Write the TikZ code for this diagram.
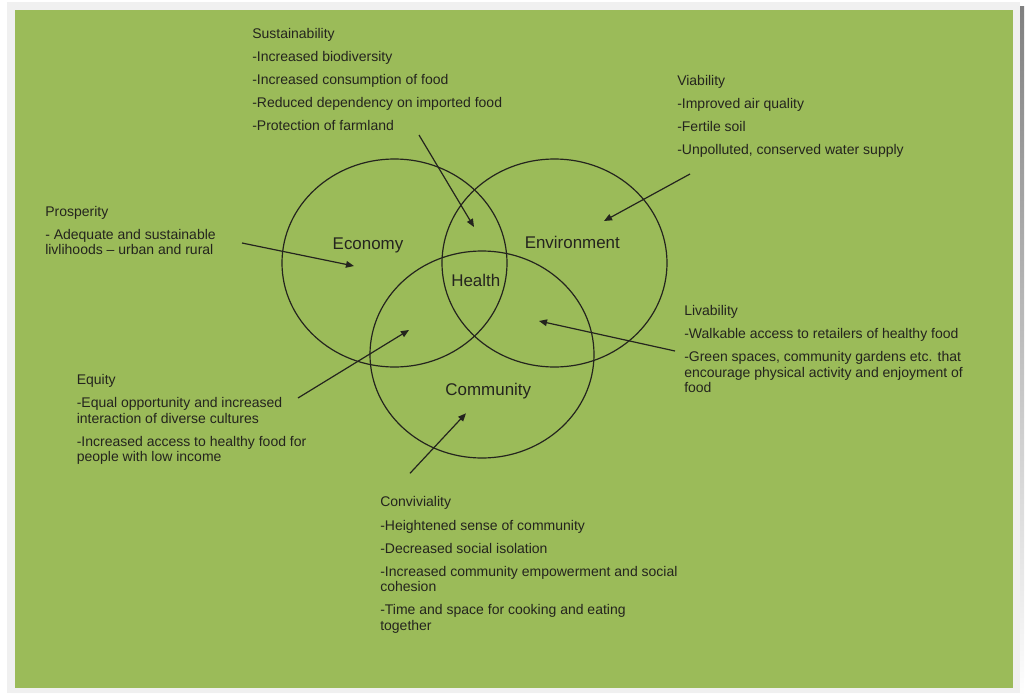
\documentclass[tikz,border=0pt]{standalone}
\usepackage{fontspec}
\setmainfont{Liberation Sans}
\usetikzlibrary{shapes.geometric,arrows.meta}
\definecolor{leaf}{HTML}{9BBB59}
\definecolor{paper}{HTML}{F0F0F0}
\definecolor{shade}{HTML}{B9BDAA}
\definecolor{ink}{HTML}{24241E}
\tikzset{
	ring/.style={draw=ink,ellipse,line width=0.9pt,inner sep=0pt},
	tag/.style={anchor=base,text=ink,font=\fontsize{12.7pt}{14pt}\selectfont},
	block/.style={anchor=north west,align=left,inner sep=0pt,text=ink,
			font=\fontsize{10.5pt}{11.5pt}\selectfont},
	pointer/.style={draw=ink,line width=0.9pt,-{Triangle[length=6pt,width=5pt]}}
}
\begin{document}
\begin{tikzpicture}[x=0.75pt,y=-0.75pt]
		\useasboundingbox (0,0) rectangle (1026,696);
		% frame and background
		\fill[shade] (11,6) rectangle (1024,696);
		\fill[paper] (7,2) rectangle (1020,693);
		\fill[leaf] (15,10) rectangle (1013,688);

		% the three circles
		\node[ring,minimum width=168.75pt,minimum height=156pt] (economy) at (394.5,263) {};
		\node[ring,minimum width=168.75pt,minimum height=156pt] (environment) at (554.5,263) {};
		\node[ring,minimum width=168pt,minimum height=155.25pt] (community) at (482,354.5) {};
		\node[tag] (economylabel) at (368,249) {Economy};
		\node[tag] (environmentlabel) at (572.3,248.3) {Environment};
		\node[tag] (healthlabel) at (475.8,286.7) {Health};
		\node[tag] (communitylabel) at (488.3,395) {Community};

		% text blocks
		\node[block] (sustainability) at (252,27.7) {Sustainability\\[5.9pt]
				-Increased biodiversity\\[5.9pt]
				-Increased consumption of food\\[5.9pt]
				-Reduced dependency on imported food\\[5.9pt]
				-Protection of farmland};
		\node[block] (viability) at (677,74.7) {Viability\\[5.9pt]
				-Improved air quality\\[5.9pt]
				-Fertile soil\\[5.9pt]
				-Unpolluted, conserved water supply};
		\node[block] (prosperity) at (45,205.7) {Prosperity\\[5.9pt]
				- Adequate and sustainable\\
				livlihoods -- urban and rural};
		\node[block] (equity) at (76.5,374.3) {Equity\\[5.9pt]
				-Equal opportunity and increased\\
				interaction of diverse cultures\\[5.9pt]
				-Increased access to healthy food for\\
				people with low income};
		\node[block] (livability) at (684,305) {Livability\\[5.9pt]
				-Walkable access to retailers of healthy food\\[5.9pt]
				-Green spaces, community gardens etc. that\\
				encourage physical activity and enjoyment of\\
				food};
		\node[block] (conviviality) at (380,496.4) {Conviviality\\[5.9pt]
				-Heightened sense of community\\[5.9pt]
				-Decreased social isolation\\[5.9pt]
				-Increased community empowerment and social\\
				cohesion\\[5.9pt]
				-Time and space for cooking and eating\\
				together};

		% arrows
		\coordinate (sustainfrom) at (419,135);
		\coordinate (sustainto) at (474,227);
		\coordinate (viablefrom) at (690,174);
		\coordinate (viableto) at (604,221);
		\coordinate (prosperfrom) at (242,243);
		\coordinate (prosperto) at (354,266);
		\coordinate (equityfrom) at (298,398);
		\coordinate (equityto) at (409,330);
		\coordinate (livablefrom) at (675,351);
		\coordinate (livableto) at (539,321);
		\coordinate (convivialfrom) at (410,473.3);
		\coordinate (convivialto) at (466,413.3);
		\draw[pointer] (sustainfrom) -- (sustainto);
		\draw[pointer] (viablefrom) -- (viableto);
		\draw[pointer] (prosperfrom) -- (prosperto);
		\draw[pointer] (equityfrom) -- (equityto);
		\draw[pointer] (livablefrom) -- (livableto);
		\draw[pointer] (convivialfrom) -- (convivialto);
	\end{tikzpicture}
\end{document}
